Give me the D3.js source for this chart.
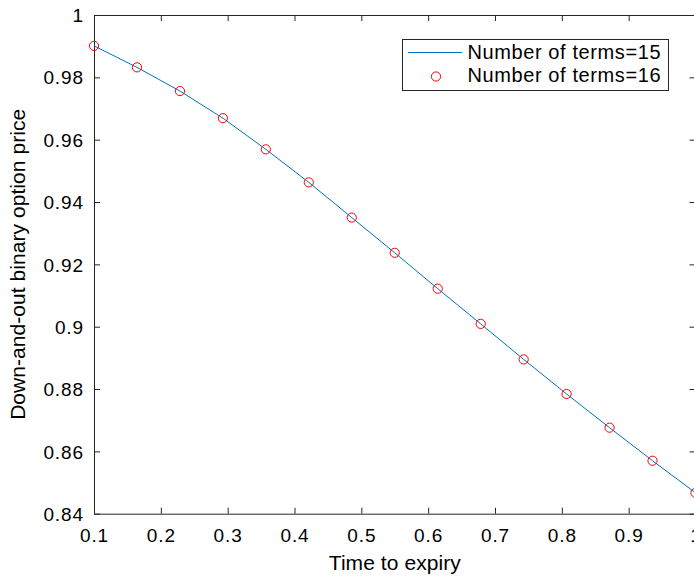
<!DOCTYPE html>
<html>
<head>
<meta charset="utf-8">
<script src="https://cdn.jsdelivr.net/npm/d3@7"></script>
<style>
  body { margin: 0; background: #fff; }
  svg { display: block; font-family: "Liberation Sans", Arial, Helvetica, sans-serif; }
</style>
</head>
<body>
<svg id="chart" width="694" height="579"></svg>
<script>
// Time to expiry (15 equally spaced points)
const timeToExpiry = [0.1, 0.1643, 0.2286, 0.2929, 0.3571, 0.4214, 0.4857, 0.55,
                      0.6143, 0.6786, 0.7429, 0.8071, 0.8714, 0.9357, 1.0];

// Number of terms=15 (line)
const price15 = [0.9901, 0.9832, 0.9756, 0.9669, 0.9569, 0.9463, 0.9350, 0.9237,
                 0.9122, 0.9009, 0.8895, 0.8784, 0.8676, 0.8570, 0.8467];

// Number of terms=16 (circles)
const price16 = [0.9901, 0.9832, 0.9756, 0.9669, 0.9569, 0.9463, 0.9350, 0.9237,
                 0.9122, 0.9009, 0.8895, 0.8784, 0.8676, 0.8570, 0.8467];

const xTicks = [0.1, 0.2, 0.3, 0.4, 0.5, 0.6, 0.7, 0.8, 0.9, 1];
const yTicks = [0.84, 0.86, 0.88, 0.9, 0.92, 0.94, 0.96, 0.98, 1];

const seriesNames = ['Number of terms=15', 'Number of terms=16'];

const svg = d3.select('#chart');

// Plot box (right edge sits just outside the window, like the reference)
const plotLeft = 94, plotRight = 695.5, plotTop = 15, plotBottom = 513.7;

const x = d3.scaleLinear().domain([0.1, 1]).range([plotLeft, plotRight]);
const y = d3.scaleLinear().domain([0.84, 1]).range([plotBottom, plotTop]);

const axisColor = '#262626';
const fmt = d => String(+d.toFixed(2));

// Bottom axis
const gx = svg.append('g')
    .attr('transform', `translate(0,${plotBottom})`)
    .call(d3.axisBottom(x).tickValues(xTicks).tickFormat(fmt).tickSizeInner(-6).tickSizeOuter(0));

// Left axis
const gy = svg.append('g')
    .attr('transform', `translate(${plotLeft},0)`)
    .call(d3.axisLeft(y).tickValues(yTicks).tickFormat(fmt).tickSizeInner(-6).tickSizeOuter(0));

// Top and right axes (box on, ticks only)
const gt = svg.append('g')
    .attr('transform', `translate(0,${plotTop})`)
    .call(d3.axisTop(x).tickValues(xTicks).tickFormat('').tickSizeInner(-6).tickSizeOuter(0));

const gr = svg.append('g')
    .attr('transform', `translate(${plotRight},0)`)
    .call(d3.axisRight(y).tickValues(yTicks).tickFormat('').tickSizeInner(-6).tickSizeOuter(0));

[gx, gy, gt, gr].forEach(g => {
    g.selectAll('path.domain').attr('stroke', axisColor).attr('stroke-width', 1);
    g.selectAll('line').attr('stroke', axisColor).attr('stroke-width', 1);
    g.selectAll('text')
        .attr('fill', '#000')
        .style('font-size', '19px')
        .style('letter-spacing', '0.9px')
        .style('font-family', '"Liberation Sans", Arial, Helvetica, sans-serif');
});

// tick label placement
gx.selectAll('.tick text').attr('y', 28).attr('dy', null);
gy.selectAll('.tick text').attr('x', -10).attr('dy', '0.35em');

// Axis labels
svg.append('text')
    .attr('x', (plotLeft + plotRight) / 2)
    .attr('y', 570)
    .attr('text-anchor', 'middle')
    .attr('textLength', 132)
    .attr('lengthAdjust', 'spacing')
    .style('font-size', '21px')
    .text('Time to expiry');

svg.append('text')
    .attr('transform', `translate(24.5,${(plotTop + plotBottom) / 2}) rotate(-90)`)
    .attr('text-anchor', 'middle')
    .attr('textLength', 311)
    .attr('lengthAdjust', 'spacing')
    .style('font-size', '21px')
    .text('Down-and-out binary option price');

// Line series
const line = d3.line()
    .x((d, i) => x(timeToExpiry[i]))
    .y(d => y(d));

svg.append('path')
    .datum(price15)
    .attr('fill', 'none')
    .attr('stroke', '#0072BD')
    .attr('stroke-width', 1)
    .attr('d', line);

// Circle series
svg.append('g')
    .selectAll('circle')
    .data(price16)
    .enter().append('circle')
    .attr('cx', (d, i) => x(timeToExpiry[i]))
    .attr('cy', d => y(d))
    .attr('r', 4.6)
    .attr('fill', 'none')
    .attr('stroke', '#ff0000')
    .attr('stroke-width', 1);

// Legend
const legend = svg.append('g');
legend.append('rect')
    .attr('x', 402.5).attr('y', 39.5)
    .attr('width', 266).attr('height', 51)
    .attr('fill', '#fff')
    .attr('stroke', axisColor)
    .attr('stroke-width', 1);

legend.append('line')
    .attr('x1', 408).attr('x2', 462)
    .attr('y1', 52.5).attr('y2', 52.5)
    .attr('stroke', '#0072BD')
    .attr('stroke-width', 1);

legend.append('circle')
    .attr('cx', 436).attr('cy', 76.5).attr('r', 4.6)
    .attr('fill', 'none')
    .attr('stroke', '#ff0000')
    .attr('stroke-width', 1);

legend.selectAll('text.leg')
    .data(seriesNames)
    .enter().append('text')
    .attr('class', 'leg')
    .attr('x', 467.5)
    .attr('y', (d, i) => 59.3 + i * 23)
    .attr('textLength', 193)
    .attr('lengthAdjust', 'spacing')
    .style('font-size', '20px')
    .text(d => d);
</script>
</body>
</html>
